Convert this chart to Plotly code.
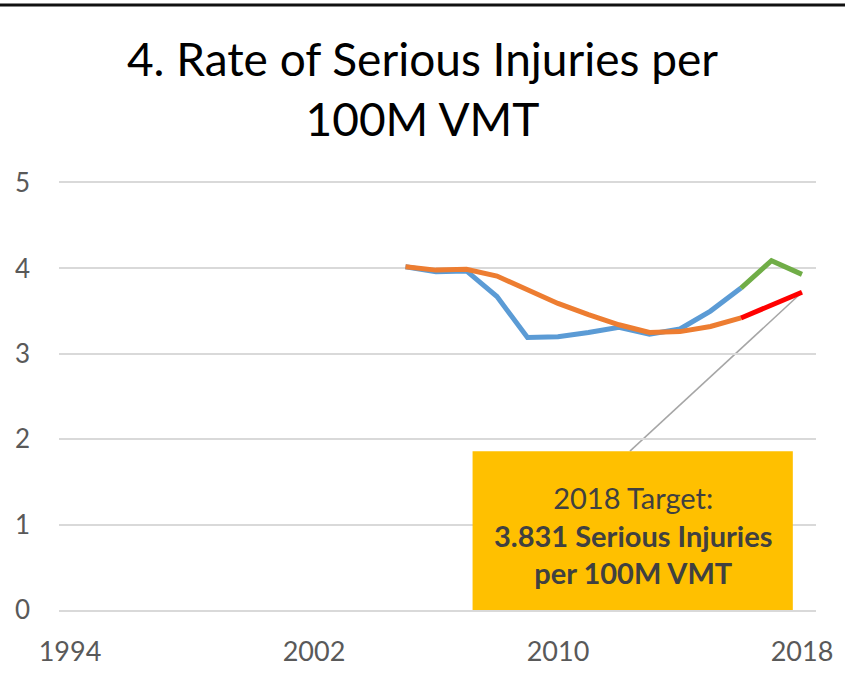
import plotly.graph_objects as go

# years on the chart
years_hist = [2005, 2006, 2007, 2008, 2009, 2010, 2011, 2012, 2013, 2014, 2015, 2016]
years_proj = [2016, 2017, 2018]

# annual rate of serious injuries per 100M VMT
rate_annual = [4.02, 3.96, 3.97, 3.67, 3.19, 3.20, 3.25, 3.31, 3.23, 3.29, 3.50, 3.77]
rate_annual_proj = [3.77, 4.09, 3.93]

# 5-year rolling average
rate_avg = [4.02, 3.98, 3.99, 3.91, 3.75, 3.59, 3.46, 3.34, 3.25, 3.26, 3.32, 3.42]
rate_avg_proj = [3.42, 3.57, 3.72]

x_ticks = [1994, 2002, 2010, 2018]
y_ticks = [0, 1, 2, 3, 4, 5]

target_year = 2018
target_value = rate_avg_proj[-1]

FONT = "Lato, 'Open Sans', sans-serif"

fig = go.Figure()

fig.add_trace(go.Scatter(x=years_hist, y=rate_annual, mode='lines',
                         line=dict(color='#5B9BD5', width=5)))
fig.add_trace(go.Scatter(x=years_proj, y=rate_annual_proj, mode='lines',
                         line=dict(color='#70AD47', width=5)))
fig.add_trace(go.Scatter(x=years_hist, y=rate_avg, mode='lines',
                         line=dict(color='#ED7D31', width=5)))
fig.add_trace(go.Scatter(x=years_proj, y=rate_avg_proj, mode='lines',
                         line=dict(color='#FF0000', width=5)))

# leader line from the target point to the callout box
fig.add_shape(type='line', x0=target_year, y0=target_value, x1=2012.36, y1=1.86,
              line=dict(color='#A6A6A6', width=1.5), layer='below')

# callout box
fig.add_shape(type='rect', x0=2007.2, x1=2017.7, y0=-0.14, y1=1.86,
              fillcolor='#FFC000', line=dict(width=0), layer='above')
fig.add_annotation(x=2012.45, y=0.88, xref='x', yref='y', showarrow=False,
                   text="2018 Target:<br><b>3.831 Serious Injuries</b><br><b>per 100M VMT</b>",
                   font=dict(family=FONT, size=29, color='#404040'), align='center')

# heavy rule across the top of the page
fig.add_shape(type='line', xref='paper', yref='paper', x0=-0.08, x1=1.04,
              y0=1.4169, y1=1.4169, line=dict(color='#111111', width=3))

fig.update_layout(
    width=845, height=685,
    paper_bgcolor='white', plot_bgcolor='white',
    showlegend=False,
    margin=dict(l=59, r=25, t=183, b=75),
    title=dict(text="4. Rate of Serious Injuries per<br>100M VMT",
               x=0.5, xref='container', xanchor='center',
               y=0.889, yref='container', yanchor='middle',
               font=dict(family=FONT, size=46, color='#000000')),
    xaxis=dict(range=[1993.64, 2018.46], tickvals=x_ticks, showgrid=False,
               zeroline=False, showline=True, mirror=True,
               linecolor='#D9D9D9', linewidth=1.5, ticks='',
               tickfont=dict(family=FONT, size=27, color='#595959'),
               ticklabelstandoff=17),
    yaxis=dict(range=[0, 5], tickvals=y_ticks, showgrid=True,
               gridcolor='#D9D9D9', gridwidth=1.5, zeroline=False,
               showline=False, ticks='',
               tickfont=dict(family=FONT, size=26, color='#595959'),
               ticklabelstandoff=28),
)

fig.write_html("out.html", config={'displayModeBar': False},
               post_script="document.body.style.margin='0';")
